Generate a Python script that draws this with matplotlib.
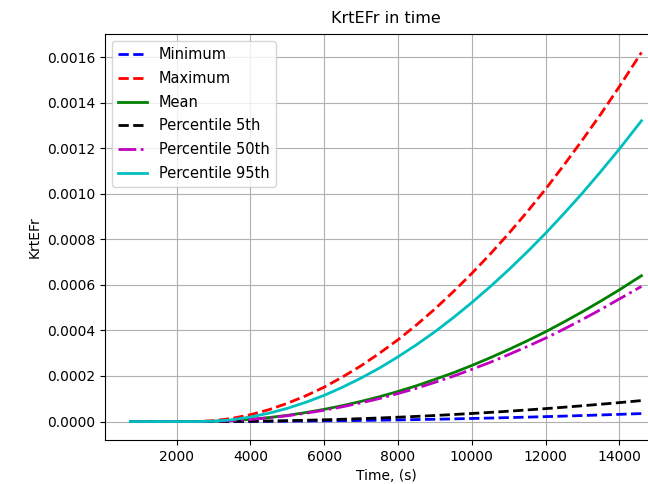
import numpy as np
import matplotlib
matplotlib.use("Agg")
import matplotlib.pyplot as plt

# Sample times (s) and KrtEFr statistics
time = [750, 1500, 2000, 2500] + list(range(3000, 14001, 500)) + [14600]
minimum = [0, 0, 0, 0,
           0.0000001, 0.0000002, 0.0000005, 0.000001, 0.0000015, 0.0000022, 0.0000029,
           0.0000038, 0.0000048, 0.000006, 0.0000072, 0.0000086, 0.0000101, 0.0000117,
           0.0000135, 0.0000153, 0.0000173, 0.0000194, 0.0000216, 0.0000239, 0.0000264,
           0.0000289, 0.0000316, 0.000035]
maximum = [0, 0, 0, 0,
           0.0000037, 0.0000138, 0.00003, 0.000052, 0.00008, 0.000113, 0.000151,
           0.000196, 0.000245, 0.0003, 0.000359, 0.000424, 0.000494, 0.00057,
           0.00065, 0.000735, 0.000825, 0.00092, 0.00102, 0.001126, 0.001236,
           0.00135, 0.00147, 0.00162]
mean = [0, 0, 0, 0,
        0.0000011, 0.0000044, 0.0000098, 0.0000175, 0.0000273, 0.0000394, 0.0000536,
        0.00007, 0.0000885, 0.000109, 0.000132, 0.000157, 0.000185, 0.000214,
        0.000246, 0.00028, 0.000316, 0.000354, 0.000394, 0.000437, 0.000482,
        0.000529, 0.000578, 0.00064]
p5 = [0, 0, 0, 0,
      0.0000002, 0.0000006, 0.0000014, 0.0000025, 0.0000039, 0.0000057, 0.0000077,
      0.0000101, 0.0000127, 0.0000157, 0.000019, 0.0000226, 0.0000265, 0.0000308,
      0.0000354, 0.0000402, 0.0000454, 0.0000509, 0.0000567, 0.0000628, 0.0000693,
      0.000076, 0.0000831, 0.000092]
p50 = [0, 0, 0, 0,
       0.000001, 0.0000041, 0.0000091, 0.0000163, 0.0000254, 0.0000366, 0.0000498,
       0.000065, 0.0000823, 0.000101, 0.000123, 0.000146, 0.000172, 0.000199,
       0.000229, 0.00026, 0.000294, 0.000329, 0.000366, 0.000406, 0.000448,
       0.000492, 0.000538, 0.000593]
p95 = [0, 0, 0, 0,
       0.0000012, 0.0000078, 0.00002, 0.0000365, 0.000058, 0.0000844, 0.000115,
       0.000151, 0.000191, 0.000235, 0.000284, 0.000337, 0.000394, 0.000456,
       0.000522, 0.000592, 0.000666, 0.000744, 0.000826, 0.000913, 0.001003,
       0.001098, 0.001196, 0.00132]

fig = plt.figure(figsize=(6.48, 4.84), dpi=100)
# axes run slightly past the right edge of the canvas
ax = fig.add_axes([105 / 648, 44 / 484, 562 / 648, 406 / 484])

ax.plot(time, minimum, 'b--', lw=2, label='Minimum')
ax.plot(time, maximum, 'r--', lw=2, label='Maximum')
ax.plot(time, mean, 'g-', lw=2, label='Mean')
ax.plot(time, p5, 'k--', lw=2, label='Percentile 5th')
ax.plot(time, p50, 'm-.', lw=2, label='Percentile 50th')
ax.plot(time, p95, 'c-', lw=2, label='Percentile 95th')

ax.set_xticks([2000, 4000, 6000, 8000, 10000, 12000, 14000])
ax.set_yticks(np.arange(0, 0.00161, 0.0002))
ax.yaxis.set_major_formatter(matplotlib.ticker.FormatStrFormatter('%.4f'))
ax.set_title('KrtEFr in time', fontsize=11.5, pad=8)
ax.set_xlabel('Time, (s)')
ax.set_ylabel('KrtEFr')
ax.grid(True)
ax.legend(loc='upper left', fontsize=10.5, labelspacing=0.6)

fig.savefig('out.png', dpi=100)
